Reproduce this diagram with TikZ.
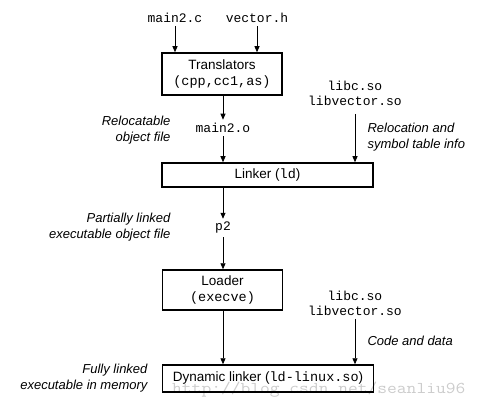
\documentclass[tikz,border=0pt]{standalone}
\usepackage{fontspec}
\setmainfont{Liberation Sans}
\setsansfont{Liberation Sans}
\newfontfamily\cour{Liberation Mono}
\usetikzlibrary{arrows.meta}
\newcommand{\codetxt}[1]{{\cour #1}}
\begin{document}
\begin{tikzpicture}[x=1pt,y=-1pt,
  font=\fontsize{13.5}{16}\selectfont,
  box/.style={draw, line width=1.5pt, inner sep=0pt, align=center},
  arr/.style={-{Triangle[length=6pt,width=5pt]}, line width=0.8pt},
  lab/.style={font=\fontsize{13}{16}\selectfont\itshape, align=right},
  code/.style={font=\fontsize{13}{15}\selectfont\cour, align=center}]
\useasboundingbox (0,0) rectangle (482,409);
% watermark
\node[anchor=base west, inner sep=0pt, text=black!20, font=\fontsize{16.5}{16.5}\selectfont\ttfamily] (wm) at (172,393) {\scalebox{1.15}[1]{http://blog.csdn.net/seanliu96}};
% nodes
\node[code] (mainc) at (175,18) {main2.c};
\node[code] (vech) at (257,18) {vector.h};
\node[box, minimum width=120pt, minimum height=42pt] (trans) at (222,74) {Translators\\\codetxt{(cpp,cc1,as)}};
\node[code] (maino) at (223,128) {main2.o};
\node[box, minimum width=211pt, minimum height=24pt] (linker) at (267.5,175) {Linker (\codetxt{ld})};
\node[code] (libs1) at (355,93) {libc.so\\libvector.so};
\node[lab, anchor=east] (reloc) at (174,130) {Relocatable\\object file};
\node[lab, anchor=west, align=left] (relsym) at (364,137) {Relocation and\\symbol table info};
\node[code] (p2) at (223,228) {p2};
\node[lab, anchor=east] (partial) at (174,227) {Partially linked\\executable object file};
\node[box, minimum width=120pt, minimum height=40pt] (loader) at (222.5,290) {Loader\\\codetxt{(execve)}};
\node[code] (libs2) at (355,303) {libc.so\\libvector.so};
\node[lab, anchor=west, align=left] (cdata) at (364,341) {Code and data};
\node[box, minimum width=211pt, minimum height=27pt] (dyn) at (268,378.5) {Dynamic linker (\codetxt{ld-linux.so})};
\node[lab, anchor=east] (fully) at (151,378) {Fully linked\\executable in memory};
% arrows
\draw[arr] (mainc.south) -- (mainc.south |- trans.north);
\draw[arr] (vech.south) -- (vech.south |- trans.north);
\draw[arr] (maino |- trans.south) -- (maino.north);
\draw[arr] (maino.south) -- (maino.south |- linker.north);
\draw[arr, shorten <=5pt] (libs1.south) -- (libs1.south |- linker.north);
\draw[arr] (p2 |- linker.south) -- (p2.north);
\draw[arr] (p2.south) -- (p2.south |- loader.north);
\draw[arr] (p2 |- loader.south) -- (p2 |- dyn.north);
\draw[arr] (libs2.south) -- (libs2.south |- dyn.north);
\end{tikzpicture}
\end{document}
